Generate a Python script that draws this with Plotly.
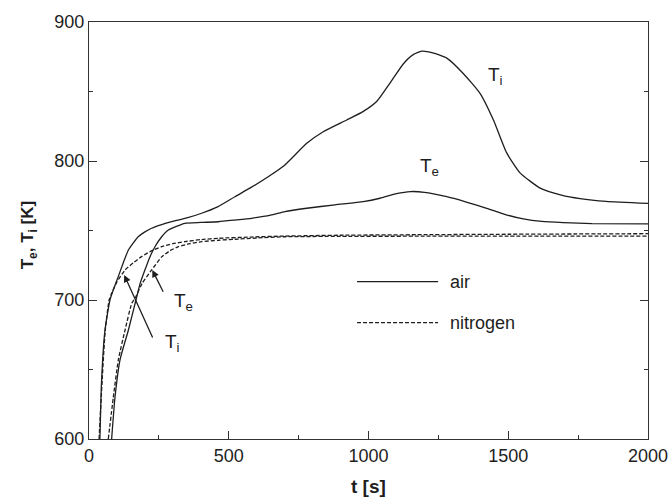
import plotly.graph_objects as go

# Time axis [s] and temperatures [K]
t_ti_air = [39, 45, 57, 75, 90, 105, 123, 141, 160, 176, 200, 224, 260, 296, 350, 403, 460,
            522, 580, 641, 700, 779, 838, 922, 980, 1030, 1080, 1125, 1160, 1190, 1230, 1280,
            1339, 1399, 1447, 1494, 1542, 1614, 1690, 1757, 1850, 2000]
ti_air = [600, 642, 678, 700, 709, 717, 727, 736, 741.5, 745.5, 749, 751.6, 754.2, 756.3,
          759, 762.4, 767, 774.3, 781, 788.7, 797, 812.7, 821, 829.5, 835.5, 843, 857, 870,
          876.5, 879, 877.8, 874, 863, 848.7, 829.5, 806, 791.5, 780.5, 775.5, 773, 771, 769.5]

t_te_air = [81, 93, 111, 141, 168, 183, 200, 218, 236, 260, 284, 343, 400, 463, 522, 582,
            650, 701, 779, 880, 981, 1041, 1100, 1150, 1200, 1280, 1350, 1423, 1490, 1554,
            1620, 1697, 1800, 2000]
te_air = [600, 630, 657, 678.4, 700, 712, 721.6, 731, 738.3, 745.5, 750.4, 755.2, 755.8,
          756.3, 757.5, 758.8, 761, 763.6, 766, 768.5, 770.8, 773.2, 776.5, 778, 777.5,
          774.3, 770.5, 766, 761.5, 758.3, 756.5, 755.7, 755, 754.7]

t_ti_n2 = [36, 47, 58, 72, 81, 100, 129, 160, 188, 220, 260, 300, 343, 403, 463, 580, 701,
           900, 1200, 1500, 2000]
ti_n2 = [600, 642, 678, 700, 704.8, 713, 721.6, 727, 731.2, 735, 738.4, 740.5, 742, 743.5,
         744.4, 745.3, 746, 746.6, 747, 747.3, 747.7]

t_te_n2 = [69, 87, 105, 129, 153, 168, 190, 224, 260, 290, 320, 360, 403, 463, 522, 600, 701,
           900, 1200, 1500, 2000]
te_n2 = [600, 630, 657, 678.4, 697.6, 702.5, 712, 721.6, 731, 735.5, 738.4, 740.5, 742, 743,
         743.7, 744.6, 745.5, 745.8, 745.9, 745.9, 746]

INK = "#1e1e1e"
FONT = "Liberation Sans, Arial, sans-serif"

fig = go.Figure()

def curve(x, y, dash):
    fig.add_trace(go.Scatter(
        x=x, y=y, mode="lines", showlegend=False, hoverinfo="skip",
        line=dict(color=INK, width=1.3, dash=dash, shape="spline", smoothing=0.5),
    ))

curve(t_ti_air, ti_air, "solid")
curve(t_te_air, te_air, "solid")
curve(t_ti_n2, ti_n2, "4px,2px")
curve(t_te_n2, te_n2, "4px,2px")

# Hand-drawn legend inside the plot area
leg_x0, leg_x1, leg_txt = 959, 1249, 1284
for yv, dash, name in [(713.2, "solid", "air"), (683.7, "4px,2px", "nitrogen")]:
    fig.add_trace(go.Scatter(
        x=[leg_x0, leg_x1], y=[yv, yv], mode="lines", showlegend=False, hoverinfo="skip",
        line=dict(color=INK, width=1.3, dash=dash),
    ))
    fig.add_annotation(x=leg_txt, y=yv, xref="x", yref="y", text=name, showarrow=False,
                       xanchor="left", yanchor="middle",
                       font=dict(family=FONT, size=18, color=INK))

# Curve labels
labels = [
    (1420, 861, "T<sub>i</sub>"),
    (1178, 796, "T<sub>e</sub>"),
    (265, 669, "T<sub>i</sub>"),
    (298, 698.5, "T<sub>e</sub>"),
]
for x, y, txt in labels:
    fig.add_annotation(x=x, y=y, xref="x", yref="y", text=txt, showarrow=False,
                       xanchor="left", yanchor="middle",
                       font=dict(family=FONT, size=19, color=INK))

# Pointer arrows for the lower labels
for hx, hy, tx, ty in [(126, 718, 230, 672), (226.5, 721.6, 268, 704.8)]:
    fig.add_annotation(x=hx, y=hy, ax=tx, ay=ty, xref="x", yref="y", axref="x", ayref="y",
                       text="", showarrow=True, arrowhead=2, arrowsize=1.1,
                       arrowwidth=1.3, arrowcolor=INK)

# Axis titles
fig.add_annotation(x=0.5, y=-0.115, xref="paper", yref="paper", text="<b>t [s]</b>",
                   showarrow=False, xanchor="center", yanchor="middle",
                   font=dict(family=FONT, size=19, color=INK))
fig.add_annotation(x=-0.108, y=0.49, xref="paper", yref="paper",
                   text="<b>T<sub>e</sub>, T<sub>i</sub> [K]</b>", textangle=-90,
                   showarrow=False, xanchor="center", yanchor="middle",
                   font=dict(family=FONT, size=17, color=INK))

axis_common = dict(
    showgrid=False, zeroline=False, showline=True, linecolor="#333", linewidth=1.3,
    ticks="inside", ticklen=8, tickwidth=1.2, tickcolor="#333", automargin=False,
    tickfont=dict(family=FONT, size=18, color=INK),
)

fig.update_xaxes(range=[0, 2000], tickvals=[0, 500, 1000, 1500, 2000], mirror=True,
                 minor=dict(ticks="inside", ticklen=4, tickwidth=1.2, tickcolor="#333",
                            tickvals=[250, 750, 1250, 1750]),
                 **axis_common)
fig.update_yaxes(range=[600, 900], tickvals=[600, 700, 800, 900], mirror="ticks",
                 minor=dict(ticks="inside", ticklen=4, tickwidth=1.2, tickcolor="#333",
                            tickvals=[650, 750, 850]),
                 **axis_common)

fig.update_layout(
    width=670, height=499,
    margin=dict(l=89, r=22, t=22, b=60, autoexpand=False),
    paper_bgcolor="white", plot_bgcolor="white",
    font=dict(family=FONT, color=INK),
)

fig.write_html("out.html")
